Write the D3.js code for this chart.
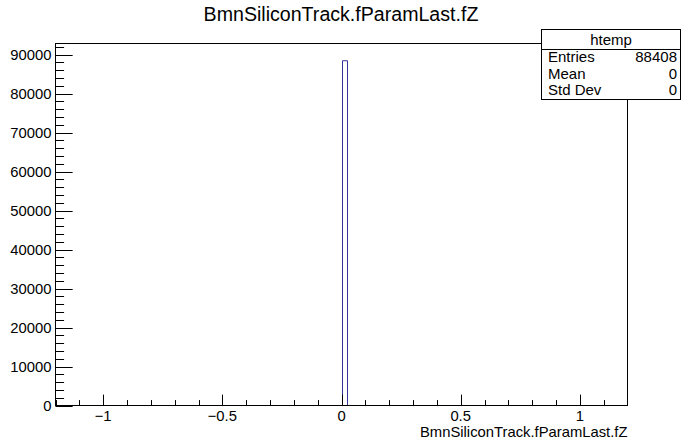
<!DOCTYPE html>
<html><head><meta charset="utf-8">
<script src="https://cdn.jsdelivr.net/npm/d3@7"></script>
<style>body{margin:0;background:#fff}svg{display:block}text{font-family:"Liberation Sans",Arial,sans-serif;fill:#000}</style>
</head><body>
<script>
const title = "BmnSiliconTrack.fParamLast.fZ";
const xLabel = "BmnSiliconTrack.fParamLast.fZ";
const binEdges = [0, 0.024];
const binCounts = [88408];
const xTicks = [-1, -0.5, 0, 0.5, 1];
const yTicks = [0, 10000, 20000, 30000, 40000, 50000, 60000, 70000, 80000, 90000];
const statsName = "htemp";
const statsLabels = ["Entries", "Mean", "Std Dev"];
const statsValues = ["88408", "0", "0"];

const W = 681, H = 439;
const L = 55.5, R = 627.5, T = 43.5, B = 405.5;
const svg = d3.select("body").append("svg").attr("width", W).attr("height", H);
const x = d3.scaleLinear().domain([-1.2, 1.2]).range([L, R]);
const y = d3.scaleLinear().domain([0, 88408 * 1.05]).range([B, T]);

// bars
binCounts.forEach((c, i) => {
  const x0 = x(binEdges[i]), x1 = x(binEdges[i + 1]);
  svg.append("path")
    .attr("d", `M${Math.round(x0)+0.5},${B}V${y(c)}H${Math.round(x1)+0.5}V${B}`)
    .attr("fill", "none").attr("stroke", "#333399").attr("stroke-width", 1);
});

// frame
svg.append("rect").attr("x", L).attr("y", T).attr("width", R - L).attr("height", B - T)
  .attr("fill", "none").attr("stroke", "#000").attr("stroke-width", 1);

// x ticks
const xMinor = d3.range(-12, 13).map(v => v / 10);
const xTickLen = 0.03 * (B - T);
xMinor.forEach(v => {
  const major = xTicks.some(t => Math.abs(t - v) < 1e-9);
  const len = major ? xTickLen : xTickLen / 2;
  const px = Math.round(x(v)) + 0.5;
  if (px <= L + 0.5 || px >= R - 0.5) return;
  svg.append("line").attr("x1", px).attr("x2", px).attr("y1", B).attr("y2", B - len)
    .attr("stroke", "#000");
});
xTicks.forEach(v => {
  svg.append("text").attr("x", x(v)).attr("y", 420.5).attr("text-anchor", "middle")
    .attr("font-size", 14.8).text(d3.format("")(v).replace("-", "\u2212"));
});

// y ticks
const yTickLen = 0.03 * (R - L);
const yMinor = d3.range(0, 93001, 2000);
yMinor.forEach(v => {
  if (v > y.domain()[1]) return;
  const major = yTicks.includes(v);
  const len = major ? yTickLen : yTickLen / 2;
  const py = Math.round(y(v)) + 0.5;
  svg.append("line").attr("x1", L).attr("x2", L + len).attr("y1", py).attr("y2", py)
    .attr("stroke", "#000");
});
yTicks.forEach(v => {
  svg.append("text").attr("x", 51.5).attr("y", y(v)).attr("dy", "0.35em").attr("text-anchor", "end")
    .attr("font-size", 14.8).text(v);
});

// title
svg.append("text").attr("x", 341).attr("y", 21).attr("text-anchor", "middle")
  .attr("font-size", 19.6).text(title);

// x label
svg.append("text").attr("x", R).attr("y", 436.5).attr("text-anchor", "end")
  .attr("font-size", 14.8).text(xLabel);

// stats box
const sx0 = 541.5, sx1 = 680.5, sy0 = 29.5, sy1 = 99.5, sDiv = 49.5;
svg.append("rect").attr("x", sx0).attr("y", sy0).attr("width", sx1 - sx0).attr("height", sy1 - sy0)
  .attr("fill", "#fff").attr("stroke", "#000");
svg.append("line").attr("x1", sx0).attr("x2", sx1).attr("y1", sDiv).attr("y2", sDiv).attr("stroke", "#000");
svg.append("text").attr("x", (sx0 + sx1) / 2).attr("y", 39.5).attr("dy", "0.35em")
  .attr("text-anchor", "middle").attr("font-size", 15).text(statsName);
const rowH = (sy1 - sDiv) / statsLabels.length;
statsLabels.forEach((lab, i) => {
  const cy = sDiv + rowH * (i + 0.5) - 1;
  svg.append("text").attr("x", 548).attr("y", cy).attr("dy", "0.35em").attr("font-size", 15).text(lab);
  svg.append("text").attr("x", 677).attr("y", cy).attr("dy", "0.35em").attr("text-anchor", "end")
    .attr("font-size", 15).text(statsValues[i]);
});
</script>
</body></html>
